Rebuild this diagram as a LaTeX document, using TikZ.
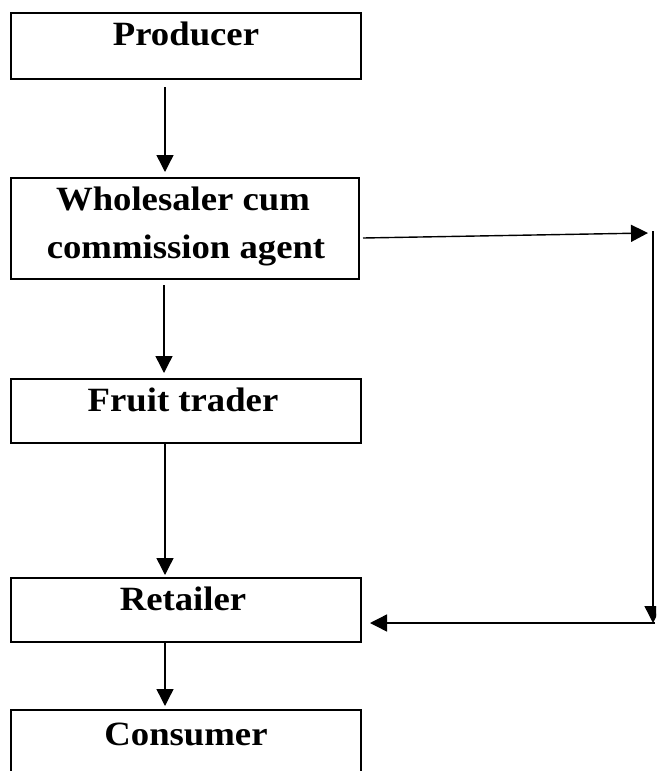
\documentclass[tikz,border=0pt]{standalone}
\usepackage{fontspec}
\setmainfont{Liberation Serif}
\usetikzlibrary{arrows.meta}
\tikzset{
  box/.style={draw=black, line width=1.5pt, rectangle, inner sep=0pt, anchor=north west},
  lbl/.style={anchor=base, inner sep=0pt, font=\fontsize{34}{40}\selectfont\bfseries},
  arr/.style={line width=1.4pt, -{Triangle[length=17pt,width=17pt]}},
  ln/.style={line width=1.4pt}
}
\newcommand{\wide}[1]{\scalebox{1.08}[1]{#1}}
\begin{document}
\begin{tikzpicture}[x=1pt,y=-1pt]
\useasboundingbox (0,0) rectangle (656,771);
\clip (0,0) rectangle (656,771);
% boxes
\node[box, minimum width=350pt, minimum height=66pt] (p) at (10,12) {};
\node[box, minimum width=348pt, minimum height=101pt] (w) at (10,177) {};
\node[box, minimum width=350pt, minimum height=64pt] (f) at (10,378) {};
\node[box, minimum width=350pt, minimum height=64pt] (r) at (10,577) {};
\node[box, minimum width=350pt, minimum height=90pt] (c) at (10,709) {};
% labels
\node[lbl] (pt) at (186,45) {\wide{Producer}};
\node[lbl] (wt1) at (183,210) {\wide{Wholesaler cum}};
\node[lbl] (wt2) at (186,258) {\wide{commission agent}};
\node[lbl] (ft) at (183,411) {\wide{Fruit trader}};
\node[lbl] (rt) at (183,610) {\wide{Retailer}};
\node[lbl] (ct) at (186,745) {\wide{Consumer}};
% connector points
\coordinate (a1s) at (165,87);  \coordinate (a1e) at (165,172);
\coordinate (a2s) at (164,285); \coordinate (a2e) at (164,373);
\coordinate (a3s) at (165,444); \coordinate (a3e) at (165,575);
\coordinate (a4s) at (165,643); \coordinate (a4e) at (165,706);
\coordinate (hs) at (363,238);  \coordinate (he) at (648,233);
\coordinate (vs) at (653,231);  \coordinate (ve) at (653,623);
\coordinate (bs) at (655,623);  \coordinate (be) at (370,623);
% arrows
\draw[arr] (a1s) -- (a1e);
\draw[arr] (a2s) -- (a2e);
\draw[arr] (a3s) -- (a3e);
\draw[arr] (a4s) -- (a4e);
\draw[arr] (hs) -- (he);
\draw[arr] (vs) -- (ve);
\draw[arr] (bs) -- (be);
\end{tikzpicture}
\end{document}
